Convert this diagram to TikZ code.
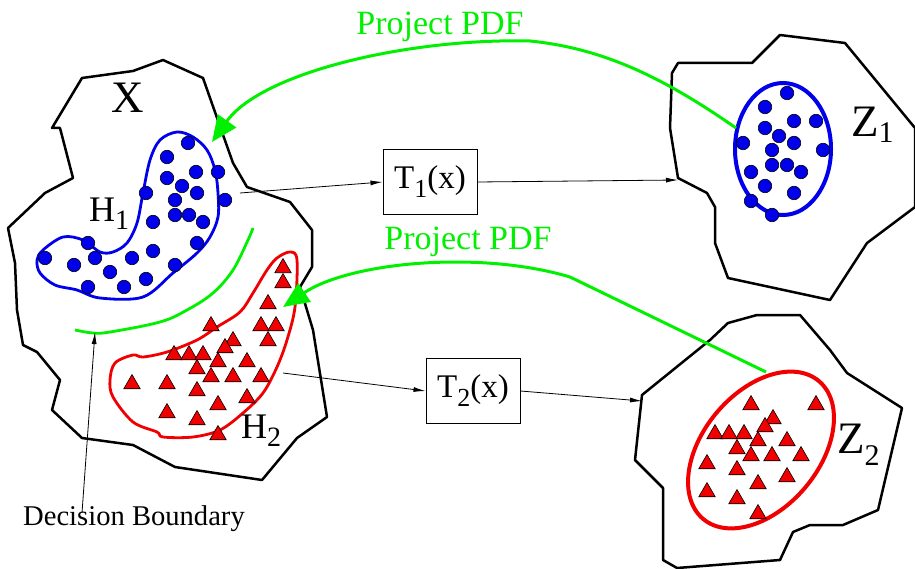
\documentclass[tikz,border=0pt]{standalone}
\usepackage{fontspec}
\setmainfont{Liberation Serif}
\usetikzlibrary{arrows.meta,shapes.geometric}
\definecolor{pgreen}{RGB}{0,240,0}
\definecolor{pblue}{RGB}{0,0,235}
\definecolor{pred}{RGB}{240,0,0}
\tikzset{
  outline/.style={line width=2.5pt, line join=round},
  dot/.style={circle, fill=pblue, draw=black, line width=0.6pt, minimum size=13.5pt, inner sep=0pt},
  tri/.style={regular polygon, regular polygon sides=3, fill=pred, draw=black, line width=0.6pt, minimum size=19pt, inner sep=0pt},
  conn/.style={line width=0.8pt, -{Latex[length=12pt,width=5pt]}},
  pdf/.style={draw=pgreen, line width=3pt, -{Triangle[length=26pt,width=22pt]}},
  tbox/.style={draw, line width=1pt, minimum width=94pt, minimum height=65pt, inner sep=0pt},
  lbl/.style={inner sep=0pt, anchor=base west},
}
\begin{document}
\begin{tikzpicture}[x=1pt,y=-1pt]
\useasboundingbox (0,0) rectangle (915,569);

% X outline
\draw[outline] (163,60) -- (203,78) -- (222,132) -- (233,163) -- (247,187) -- (290,202) -- (312,230) -- (312,267) -- (300,287) -- (313,330) -- (327,417) -- (297,438) -- (262,480) -- (175,467) -- (133,445) -- (82,438) -- (52,410) -- (60,380) -- (37,352) -- (23,345) -- (17,310) -- (15,263) -- (8,228) -- (45,193) -- (73,178) -- (60,128) -- (52,128) -- (82,78) -- (133,71) -- cycle;

% Z1 outline
\draw[outline] (678,63) -- (752,63) -- (780,35) -- (845,43) -- (915,128) -- (915,207) -- (867,243) -- (830,300) -- (728,278) -- (715,243) -- (715,207) -- (707,193) -- (678,178) -- (670,128) -- (672,73) -- cycle;

% Z2 outline
\draw[outline] (728,323) -- (757,315) -- (800,315) -- (830,350) -- (847,373) -- (902,408) -- (878,510) -- (843,525) -- (810,525) -- (793,532) -- (780,560) -- (677,568) -- (663,560) -- (663,488) -- (635,460) -- (642,395) -- (710,340) -- cycle;

% H1 blob
\draw[pblue, line width=2.8pt] plot[smooth cycle, tension=0.55] coordinates {(37,260) (43,250) (63,237) (83,240) (100,252) (113,252) (127,243) (137,223) (143,193) (150,160) (160,140) (177,132) (193,137) (207,150) (215,170) (218,193) (218,217) (210,237) (197,253) (173,273) (143,297) (100,298) (77,290) (55,285) (40,273)};

% H2 blob
\draw[pred, line width=2.8pt] plot[smooth cycle, tension=0.55] coordinates {(277,258) (290,252) (297,260) (295,307) (287,340) (277,367) (263,393) (243,413) (220,430) (193,437) (163,437) (157,432) (133,422) (113,397) (110,380) (115,363) (133,355) (143,357) (167,352) (197,340) (217,327) (240,312) (253,293) (267,270)};

% decision boundary
\draw[pgreen, line width=2.8pt] plot[smooth, tension=0.6] coordinates {(253,228) (248,240) (233,270) (213,293) (187,310) (160,322) (110,332) (93,333) (75,330)};

% Z ellipses
\draw[pblue, line width=4pt] (783,149) ellipse[x radius=48, y radius=66];
\draw[pred, line width=4pt, rotate around={50:(761,450)}] (761,450) ellipse[x radius=90, y radius=58];

% H1 dots
\foreach \p [count=\i] in {(188,143),(167,157),(196,172),(218,172),(167,178),(182,186),(146,193),(197,193),(225,200),(175,200),(175,215),(189,215),(203,222),(153,222),(197,243),(88,243),(153,251),(45,258),(95,258),(132,258),(74,265),(175,265),(110,272),(146,279),(88,287),(124,287)}
  \node[dot] (hd\i) at \p {};

% Z1 dots
\foreach \p [count=\i] in {(787,93),(765,107),(794,121),(816,121),(765,128),(779,136),(743,143),(794,143),(823,150),(772,150),(772,165),(787,165),(801,172),(751,172),(765,186),(794,193),(751,201),(772,215)}
  \node[dot] (zd\i) at \p {};

% H2 triangles
\foreach \p [count=\i] in {(283,268),(283,283),(268,304),(211,326),(261,326),(276,326),(268,341),(233,341),(225,348),(174,355),(189,355),(203,355),(218,362),(247,362),(197,369),(132,384),(167,384),(211,377),(233,377),(261,377),(197,391),(247,398),(218,405),(167,413),(197,420),(218,435)}
  \node[tri] (ht\i) at \p {};

% Z2 triangles
\foreach \p [count=\i] in {(751,405),(816,405),(773,419),(765,427),(715,434),(729,434),(744,434),(758,441),(787,441),(737,449),(751,456),(772,456),(801,456),(707,464),(737,470),(787,477),(758,484),(707,492),(737,499),(758,514)}
  \node[tri] (zt\i) at \p {};

% labels
\node[lbl] (xl) at (111,113) {\fontsize{45}{50}\selectfont X};
\node[lbl] (h1l) at (89,222) {\fontsize{36}{40}\selectfont H\raisebox{-8pt}{\fontsize{28}{30}\selectfont 1}};
\node[lbl] (h2l) at (241,438) {\fontsize{36}{40}\selectfont H\raisebox{-8pt}{\fontsize{28}{30}\selectfont 2}};
\node[lbl] (z1l) at (851,137) {\fontsize{45}{50}\selectfont Z\raisebox{-6pt}{\fontsize{30}{32}\selectfont 1}};
\node[lbl] (z2l) at (837,453) {\fontsize{45}{50}\selectfont Z\raisebox{-12pt}{\fontsize{30}{32}\selectfont 2}};

% transform boxes
\node[tbox] (t1) at (430,182) {\fontsize{33}{36}\selectfont T\raisebox{-9pt}{\fontsize{26}{28}\selectfont 1}(x)};
\node[tbox] (t2) at (473,391) {\fontsize{33}{36}\selectfont T\raisebox{-9pt}{\fontsize{26}{28}\selectfont 2}(x)};

\coordinate (h1o) at (240,193);
\coordinate (h2o) at (283,373);
\coordinate (z1in) at (678,180);
\coordinate (z2in) at (642,401);
\draw[conn] (h1o) -- (t1.west);
\draw[conn] (t1.east) -- (z1in);
\draw[conn] (h2o) -- (t2.west);
\draw[conn] (t2.east) -- (z2in);

% decision boundary label
\node[inner sep=0pt, anchor=base] (dbl) at (134,525) {\fontsize{28.6}{32}\selectfont Decision Boundary};
\coordinate (db) at (95,332);
\draw[conn] ([xshift=-52pt,yshift=-8pt]dbl.north) -- (db);

% project PDF arrows
\node[inner sep=0pt, anchor=base, text=pgreen] (p1) at (440,35) {\fontsize{34}{38}\selectfont Project PDF};
\node[inner sep=0pt, anchor=base, text=pgreen] (p2) at (468,250) {\fontsize{34}{38}\selectfont Project PDF};
\coordinate (z1e) at (736,128);
\coordinate (z2e) at (766,372);
\coordinate (h1t) at (212,142);
\coordinate (h2t) at (283,307);
\draw[pdf] (z1e) .. controls (660,75) and (600,48) .. (530,41) .. controls (410,38) and (262,72) .. (h1t);
\draw[pdf] (z2e) -- (570,277) .. controls (480,250) and (350,262) .. (h2t);
\end{tikzpicture}
\end{document}
